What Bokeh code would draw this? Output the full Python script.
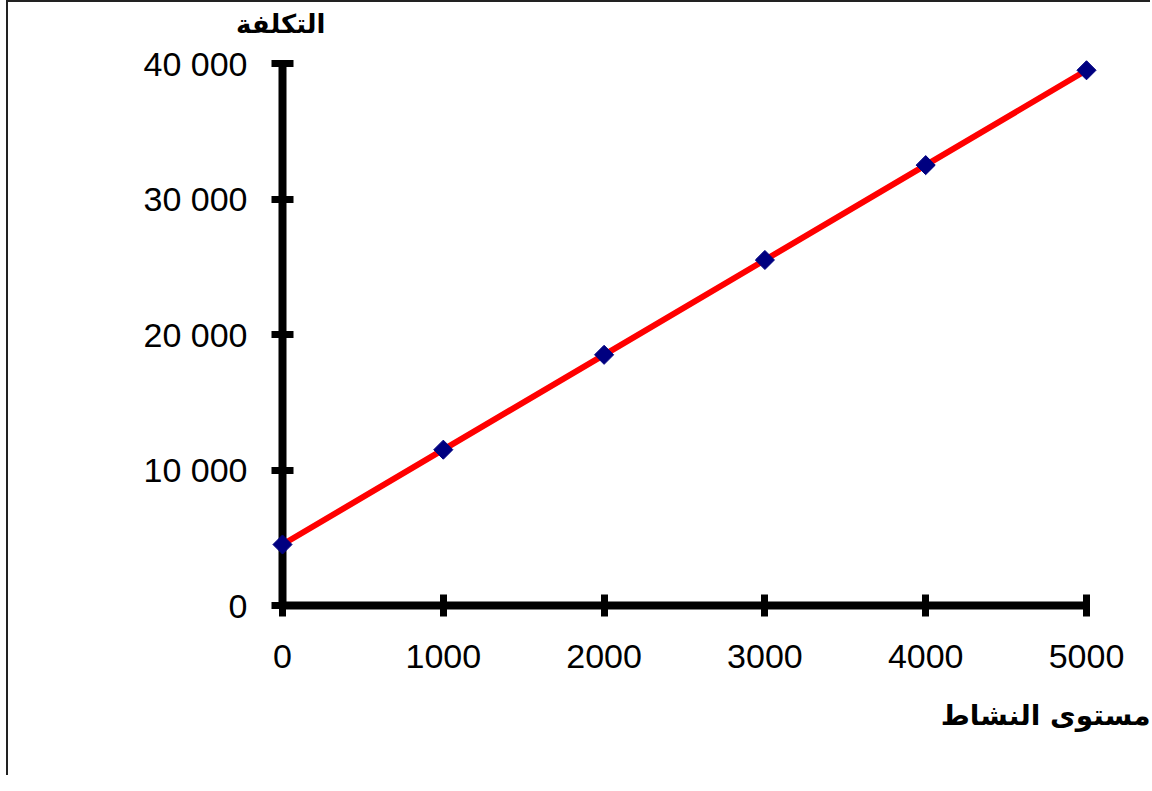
import numpy as np
from bokeh.plotting import figure
from bokeh.models import Range1d, Title, FixedTicker
from bokeh.embed import file_html
from bokeh.resources import INLINE

# ---- data ----
activity = [0, 1000, 2000, 3000, 4000, 5000]
cost = [4500, 11500, 18500, 25500, 32500, 39500]
x_ticks = [0, 1000, 2000, 3000, 4000, 5000]
x_tick_labels = ["0", "1000", "2000", "3000", "4000", "5000"]
y_ticks = [0, 10000, 20000, 30000, 40000]
y_tick_labels = ["0", "10 000", "20 000", "30 000", "40 000"]
y_title = "التكلفة"
x_title = "مستوى النشاط"

p = figure(width=1144, height=775, output_backend="svg", toolbar_location=None,
           x_range=Range1d(0, 5000), y_range=Range1d(0, 40000),
           min_border_left=274, min_border_right=66,
           min_border_top=61, min_border_bottom=172,
           background_fill_color="white", border_fill_color="white")
p.outline_line_color = None
p.xgrid.visible = False
p.ygrid.visible = False
p.styles = {"border-left": "2px solid #222", "border-top": "2px solid #222",
            "margin-left": "6px"}

p.line(activity, cost, line_color="#FF0000", line_width=6, level="overlay")
p.scatter(activity, cost, marker="square", angle=np.pi / 4, size=13.5,
          fill_color="#000080", line_color="#000080", level="overlay")

for ax in (p.xaxis[0], p.yaxis[0]):
    ax.axis_line_width = 8
    ax.axis_line_color = "black"
    ax.major_tick_line_width = 7
    ax.major_tick_line_color = "black"
    ax.major_tick_in = 11
    ax.major_tick_out = 11
    ax.minor_tick_line_color = None
    ax.major_label_text_font = "Liberation Sans"
    ax.major_label_text_font_size = "34px"
    ax.major_label_text_color = "black"

p.xaxis.major_label_standoff = 28
p.yaxis.major_label_standoff = 24
p.xaxis.ticker = FixedTicker(ticks=x_ticks)
p.xaxis.major_label_overrides = dict(zip(x_ticks, x_tick_labels))
p.yaxis.ticker = FixedTicker(ticks=y_ticks)
p.yaxis.major_label_overrides = dict(zip(y_ticks, y_tick_labels))

# spacer panel between frame and the y title
p.add_layout(Title(text=" ", standoff=10, text_font_size="10px"), "above")
p.add_layout(Title(text=y_title, align="right", offset=761, vertical_align="top",
                   standoff=0, text_font="DejaVu Sans", text_font_style="bold",
                   text_font_size="26px", text_color="black"), "above")
p.add_layout(Title(text=x_title, align="right", offset=-64, vertical_align="top",
                   standoff=56, text_font="DejaVu Sans", text_font_style="bold",
                   text_font_size="28px", text_color="black"), "below")

open("out.html", "w").write(file_html(p, INLINE))
